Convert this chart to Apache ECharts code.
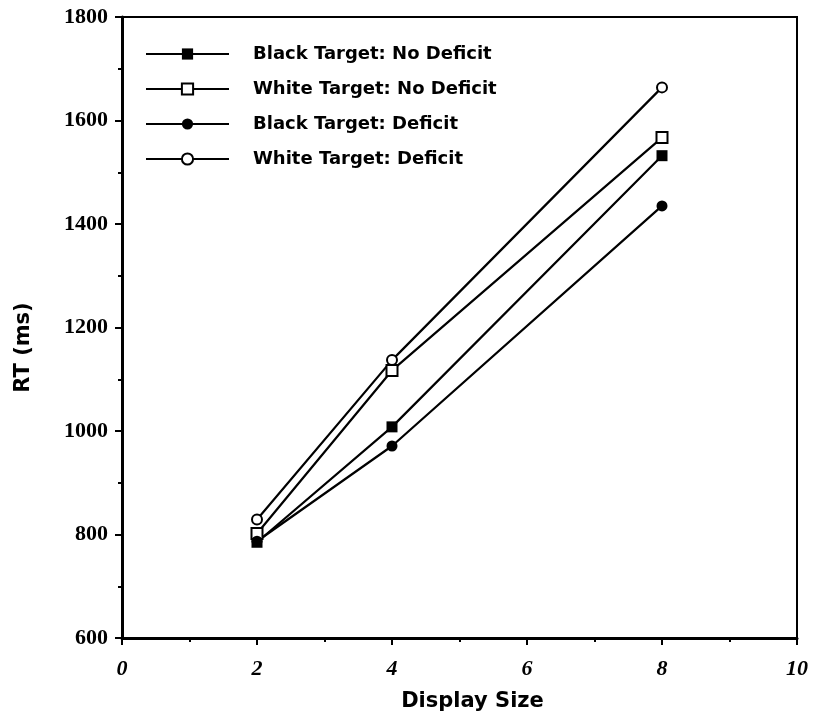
<!DOCTYPE html>
<html>
<head>
<meta charset="utf-8">
<script src="https://cdn.jsdelivr.net/npm/echarts@6/dist/echarts.min.js"></script>
<style>
  html, body { margin: 0; padding: 0; background: #fff; }
  #main { width: 813px; height: 713px; }
</style>
</head>
<body>
<div id="main"></div>
<script>
// display sizes on the x axis
var displaySizes = [2, 4, 8];

// RT values (ms)
var blackNoDeficit = [785, 1008, 1532];
var whiteNoDeficit = [802, 1117, 1567];
var blackDeficit = [787, 971, 1435];
var whiteDeficit = [829, 1137, 1664];

var seriesNames = [
  "Black Target: No Deficit",
  "White Target: No Deficit",
  "Black Target: Deficit",
  "White Target: Deficit"
];

function pairs(values) {
  return displaySizes.map(function (x, i) {
    return [x, values[i]];
  });
}

function makeSeries(name, values, symbol, filled, size) {
  return {
    name: name,
    type: "line",
    data: pairs(values),
    symbol: symbol,
    symbolSize: size,
    showAllSymbol: true,
    lineStyle: { color: "#000", width: 2.2 },
    itemStyle: {
      color: filled ? "#000" : "#fff",
      borderColor: "#000",
      borderWidth: filled ? 0 : 2
    },
    emphasis: { disabled: true },
    z: 3
  };
}

var myChart = echarts.init(document.getElementById("main"));
myChart.setOption({
  animation: false,
  backgroundColor: "#fff",
  grid: {
    left: 122,
    right: 16,
    top: 17,
    bottom: 75,
    outerBoundsMode: "none",
    show: true,
    borderColor: "#000",
    borderWidth: 2
  },
  legend: {
    orient: "vertical",
    left: 140,
    top: 40,
    itemWidth: 83,
    itemHeight: 14,
    itemGap: 17,
    selectedMode: false,
    textStyle: {
      fontFamily: "DejaVu Sans",
      fontWeight: "bold",
      fontSize: 18,
      lineHeight: 17,
      color: "#000",
      padding: [0, 0, 0, 19]
    },
    data: seriesNames
  },
  xAxis: {
    type: "value",
    min: 0,
    max: 10,
    interval: 2,
    name: "Display Size",
    nameLocation: "middle",
    nameGap: 53,
    nameTextStyle: {
      fontFamily: "DejaVu Sans",
      fontWeight: "bold",
      fontSize: 21,
      color: "#000",
      padding: [0, 0, 0, 26]
    },
    axisLine: { lineStyle: { color: "#000", width: 3 } },
    axisTick: { inside: false, length: 7, lineStyle: { color: "#000", width: 2 } },
    minorTick: { show: true, splitNumber: 2, length: 4, lineStyle: { color: "#000", width: 2 } },
    splitLine: { show: false },
    axisLabel: {
      margin: 20,
      fontFamily: "Liberation Serif",
      fontWeight: "bold",
      fontStyle: "italic",
      fontSize: 22,
      color: "#000"
    }
  },
  yAxis: {
    type: "value",
    min: 600,
    max: 1800,
    interval: 200,
    name: "RT (ms)",
    nameLocation: "middle",
    nameGap: 88,
    nameRotate: 90,
    nameTextStyle: {
      fontFamily: "DejaVu Sans",
      fontWeight: "bold",
      fontSize: 21,
      color: "#000",
      padding: [0, 40, 0, 0]
    },
    axisLine: { lineStyle: { color: "#000", width: 3 } },
    axisTick: { inside: false, length: 7, lineStyle: { color: "#000", width: 2 } },
    minorTick: { show: true, splitNumber: 2, length: 4, lineStyle: { color: "#000", width: 2 } },
    splitLine: { show: false },
    axisLabel: {
      margin: 14,
      fontFamily: "Liberation Serif",
      fontWeight: "bold",
      fontSize: 22,
      color: "#000",
      formatter: function (v) { return String(v); }
    }
  },
  series: [
    makeSeries(seriesNames[0], blackNoDeficit, "rect", true, 11),
    makeSeries(seriesNames[1], whiteNoDeficit, "rect", false, 11),
    makeSeries(seriesNames[2], blackDeficit, "circle", true, 11),
    makeSeries(seriesNames[3], whiteDeficit, "circle", false, 10)
  ]
});
</script>
</body>
</html>
